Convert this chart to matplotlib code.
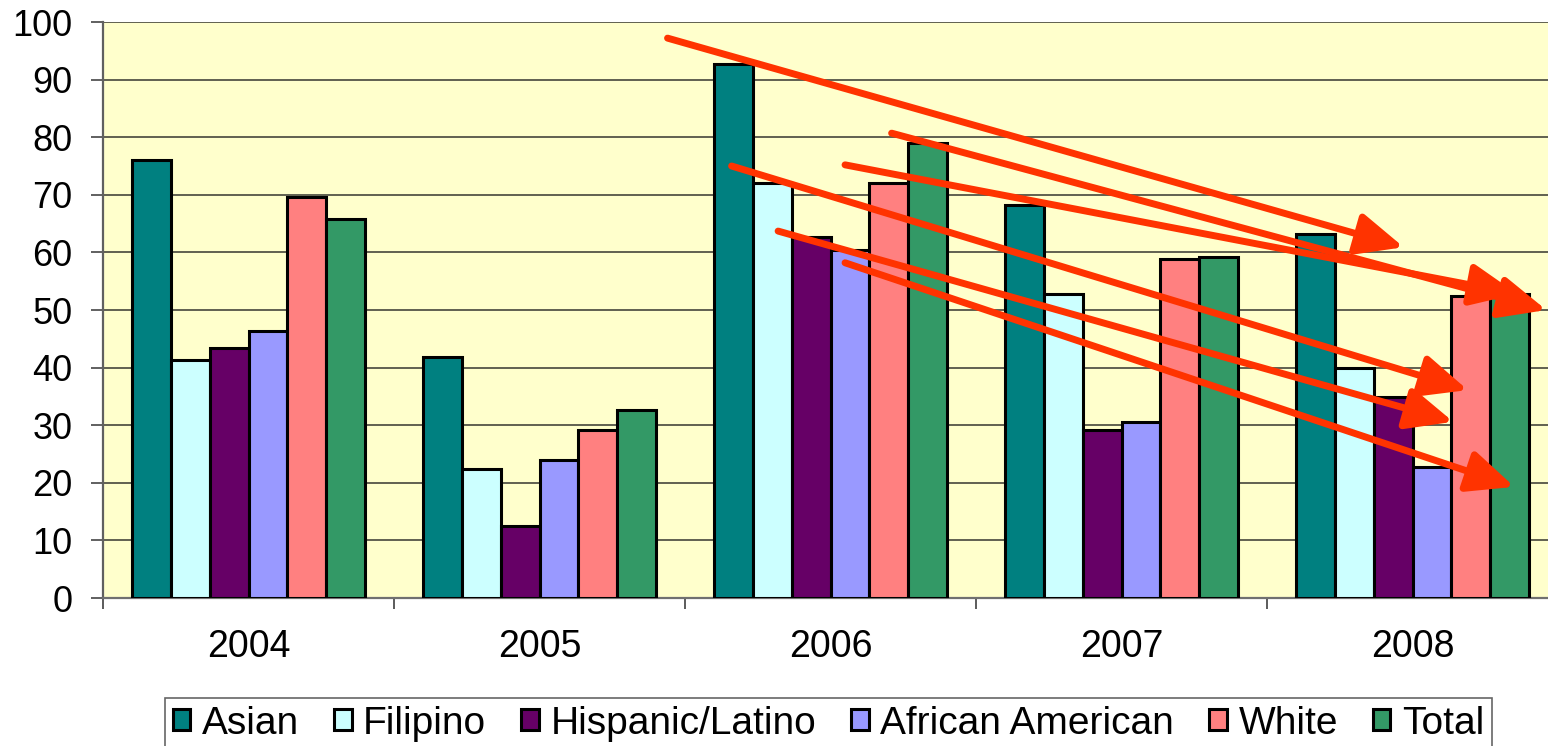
import numpy as np
import matplotlib.pyplot as plt
from matplotlib.patches import FancyArrowPatch

# Datos por año y grupo
anios = ["2004", "2005", "2006", "2007", "2008"]
grupos = ["Asian", "Filipino", "Hispanic/Latino", "African American", "White", "Total"]
asian = [76.0, 41.8, 92.7, 68.2, 63.2]
filipino = [41.3, 22.4, 72.0, 52.8, 39.9]
hispanic = [43.4, 12.5, 62.7, 29.2, 34.9]
african_american = [46.4, 24.0, 60.4, 30.6, 22.7]
white = [69.6, 29.2, 72.0, 58.9, 52.4]
total = [65.8, 32.6, 79.0, 59.2, 52.8]
series = [asian, filipino, hispanic, african_american, white, total]
colores = ["#008080", "#CCFFFF", "#660066", "#9999FF", "#FF8080", "#339966"]

# Flechas de tendencia (inicio -> fin, en coordenadas de los datos)
flechas = [
    ((1.44, 97.2), (3.97, 60.9)),
    ((2.21, 80.7), (4.46, 50.0)),
    ((2.05, 75.2), (4.36, 52.8)),
    ((1.66, 75.0), (4.19, 36.1)),
    ((1.82, 63.7), (4.14, 30.6)),
    ((2.05, 58.2), (4.35, 19.3)),
]

plt.rcParams["font.family"] = ["Liberation Sans", "DejaVu Sans"]

fig = plt.figure(figsize=(15.48, 7.46), dpi=100)
ax = fig.add_axes([103 / 1548, 148 / 746, 1455 / 1548, 576 / 746])
ax.set_facecolor("#FFFFCC")

x = np.arange(len(anios))
ancho = 0.134
for i, (nombre, valores, color) in enumerate(zip(grupos, series, colores)):
    ax.bar(x + (i - 2.5) * ancho, valores, ancho, color=color,
           edgecolor="black", linewidth=2.2, label=nombre, zorder=3)

for inicio, fin in flechas:
    ax.add_patch(FancyArrowPatch(inicio, fin, arrowstyle="-|>,head_length=1.9,head_width=0.85",
                                 mutation_scale=15, color="#FF3300", lw=5,
                                 shrinkA=0, shrinkB=0, zorder=5, clip_on=False))

ax.set_xlim(-0.5, 4.5)
ax.set_ylim(0, 100)
ax.set_yticks(range(0, 101, 10))
ax.yaxis.grid(True, color="#606050", linewidth=1.4, zorder=0)
ax.tick_params(axis="y", labelsize=26, length=9, width=1.4, color="#606060", pad=13)

ax.set_xticks(x)
ax.set_xticklabels(anios, fontsize=27)
ax.set_xticks(np.arange(-0.5, 5.0, 1.0), minor=True)
ax.tick_params(axis="x", which="major", length=0, pad=22)
ax.tick_params(axis="x", which="minor", length=8, width=1.2, color="#404040")

for lado in ["top", "right"]:
    ax.spines[lado].set_visible(False)
ax.spines["left"].set_color("#606060")
ax.spines["left"].set_linewidth(1.6)
ax.spines["bottom"].set_color("#707070")
ax.spines["bottom"].set_linewidth(1.6)

leg = ax.legend(loc="upper left", bbox_to_anchor=(165 / 1548, 48 / 746),
                bbox_transform=fig.transFigure, ncol=6, frameon=True,
                fancybox=False, edgecolor="#404040", fontsize=28,
                handlelength=0.45, handleheight=0.45, handletextpad=0.3,
                columnspacing=0.9, borderpad=0.2, borderaxespad=0)
leg.get_frame().set_linewidth(1.2)

fig.savefig("out.png", dpi=100)
